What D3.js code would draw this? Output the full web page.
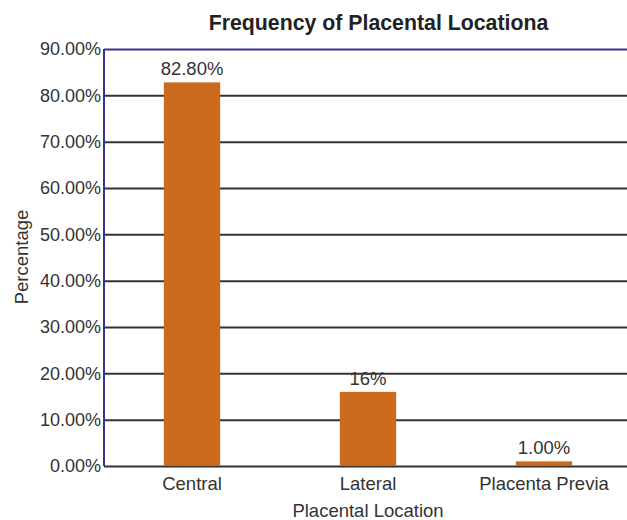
<!DOCTYPE html>
<html><head><meta charset="utf-8">
<script src="https://cdn.jsdelivr.net/npm/d3@7"></script>
<style>body{margin:0;background:#fff;}text{font-family:"Liberation Sans",Arial,sans-serif;}</style>
</head><body>
<svg id="c" width="627" height="520"></svg>
<script>
const categories = ["Central", "Lateral", "Placenta Previa"];
const values = [82.8, 16, 1.0];
const valueLabels = ["82.80%", "16%", "1.00%"];
const yTicks = [0, 10, 20, 30, 40, 50, 60, 70, 80, 90];

(function () {
const svg = d3.select("#c");
const mLeft = 104, mRight = 632, mTop = 49, mBottom = 466;
const x = d3.scaleBand().domain(categories).range([mLeft, mRight]).paddingInner(0.68).paddingOuter(0.34);
const y = d3.scaleLinear().domain([0, 90]).range([mBottom, mTop]);

// gridlines
const yAxis = d3.axisLeft(y).tickValues(yTicks).tickFormat(d => d.toFixed(2) + "%").tickSize(-(627 - mLeft)).tickPadding(3);
const gy = svg.append("g").attr("transform", `translate(${mLeft},0)`).call(yAxis);
gy.select(".domain").remove();
gy.selectAll(".tick line").attr("stroke", "#333").attr("stroke-width", 2);
gy.selectAll(".tick text").attr("fill", "#333").attr("font-size", 18).attr("font-family", "Liberation Sans, Arial, sans-serif");
gy.selectAll(".tick").filter(d => d === 90).select("line").attr("stroke", "#3b318c");

// bars
svg.append("g").selectAll("rect").data(values).join("rect")
  .attr("x", (d, i) => x(categories[i]))
  .attr("width", x.bandwidth())
  .attr("y", d => y(d))
  .attr("height", d => y(0) - y(d))
  .attr("fill", "#cb6a1d");

// labels
svg.append("g").selectAll("text").data(values).join("text")
  .attr("x", (d, i) => x(categories[i]) + x.bandwidth() / 2)
  .attr("y", d => y(d) - 7)
  .attr("text-anchor", "middle")
  .attr("font-size", 18.5).attr("fill", "#333")
  .text((d, i) => valueLabels[i]);

// left axis line
svg.append("line").attr("x1", mLeft).attr("x2", mLeft).attr("y1", mTop).attr("y2", mBottom).attr("stroke", "#3b318c").attr("stroke-width", 2);

// x axis labels
const xAxis = d3.axisBottom(x).tickSize(0).tickPadding(11);
const gx = svg.append("g").attr("transform", `translate(0,${mBottom})`).call(xAxis);
gx.select(".domain").remove();
gx.selectAll(".tick text").attr("fill", "#333").attr("font-size", 18.5).attr("font-family", "Liberation Sans, Arial, sans-serif");

// titles
svg.append("text").attr("x", 378.5).attr("y", 30).attr("text-anchor", "middle").attr("font-weight", "bold").attr("font-size", 21.3).attr("fill", "#222").text("Frequency of Placental Locationa");
svg.append("text").attr("x", 368).attr("y", 517).attr("text-anchor", "middle").attr("font-size", 18.5).attr("fill", "#333").text("Placental Location");
svg.append("text").attr("transform", "translate(28,257) rotate(-90)").attr("text-anchor", "middle").attr("font-size", 18.5).attr("fill", "#333").text("Percentage");
})();
</script>
</body></html>
